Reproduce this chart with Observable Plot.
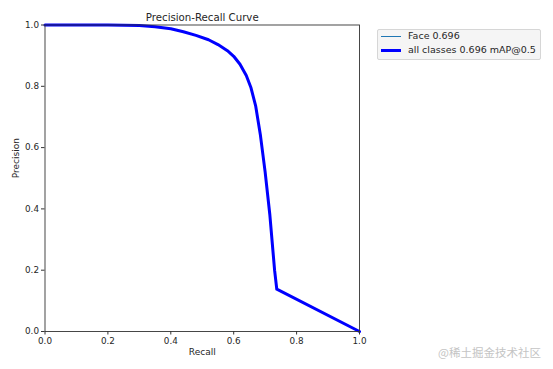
<!DOCTYPE html>
<html>
<head>
<meta charset="utf-8">
<script src="https://cdn.jsdelivr.net/npm/d3@7"></script>
<script src="https://cdn.jsdelivr.net/npm/@observablehq/plot@0.6"></script>
<style>
  html, body { margin: 0; padding: 0; background: #fff; }
  #wrap { position: relative; width: 553px; height: 369px; overflow: hidden; font-family: "DejaVu Sans", sans-serif; }
  #legend { position: absolute; left: 377px; top: 29px; width: 164px; height: 31px; box-sizing: border-box;
    background: #f5f5f5; border: 1px solid #d6d6d6; border-radius: 2px; font-size: 9.5px; color: #262626; }
  .row { position: absolute; left: 0; height: 12px; }
  .sw { position: absolute; left: 3px; width: 20px; }
  .lb { position: absolute; left: 30px; top: -6px; white-space: nowrap; line-height: 12px; }
  #wm { position: absolute; left: 438px; top: 344px; font-family: "Noto Sans CJK SC", sans-serif; font-size: 11.5px; color: #c4c4c4; white-space: nowrap; }
</style>
</head>
<body>
<div id="wrap">
  <div id="chart"></div>
  <div id="legend"></div>
  <div id="wm">@稀土掘金技术社区</div>
</div>
<script>
const title = "Precision-Recall Curve";
const xLabel = "Recall";
const yLabel = "Precision";
const ticks = [0, 0.2, 0.4, 0.6, 0.8, 1.0];
const recall = [0, 0.1, 0.2, 0.3, 0.35, 0.4, 0.44, 0.48, 0.52, 0.55, 0.58, 0.6, 0.62, 0.64, 0.655, 0.67, 0.685, 0.70, 0.715, 0.73, 0.737, 1.0];
const precision = [1.0, 1.0, 1.0, 0.998, 0.994, 0.988, 0.978, 0.966, 0.952, 0.936, 0.916, 0.898, 0.872, 0.835, 0.795, 0.735, 0.64, 0.52, 0.38, 0.2, 0.138, 0.0];
const seriesNames = ["Face 0.696", "all classes 0.696 mAP@0.5"];
const seriesColors = ["#1f77b4", "blue"];
const seriesWidths = [1, 3];

const data = recall.map((r, i) => ({recall: r, precision: precision[i]}));

const chart = Plot.plot({
  width: 553,
  height: 369,
  marginLeft: 44.5,
  marginRight: 194,
  marginTop: 24.5,
  marginBottom: 38,
  style: {fontFamily: "DejaVu Sans, sans-serif", fontSize: "8.8px", color: "#262626", background: "#fff"},
  x: {domain: [0, 1], ticks: ticks, tickFormat: d3.format(".1f"), label: null},
  y: {domain: [0, 1], ticks: ticks, tickFormat: d3.format(".1f"), label: null},
  marks: [
    Plot.line(data, {x: "recall", y: "precision", stroke: seriesColors[0], strokeWidth: seriesWidths[0]}),
    Plot.line(data, {x: "recall", y: "precision", stroke: seriesColors[1], strokeWidth: seriesWidths[1], strokeLinejoin: "round"}),
    Plot.frame({stroke: "#333", strokeWidth: 0.9}),
    Plot.axisX({ticks: ticks, tickFormat: d3.format(".1f"), tickSize: 3.5, tickPadding: 2.5, label: null, fontSize: 8.8, stroke: "#333"}),
    Plot.axisY({ticks: ticks, tickFormat: d3.format(".1f"), tickSize: 3.5, tickPadding: 2.5, label: null, fontSize: 8.8, stroke: "#333"}),
    Plot.text([title], {frameAnchor: "top", dy: -4, lineAnchor: "bottom", fontSize: 10.2, fill: "#262626"}),
    Plot.text([xLabel], {frameAnchor: "bottom", dy: 17.5, lineAnchor: "top", fontSize: 9, fill: "#262626"}),
    Plot.text([yLabel], {frameAnchor: "left", dx: -29, rotate: -90, fontSize: 9, fill: "#262626"})
  ]
});
document.getElementById("chart").appendChild(chart);

const legend = document.getElementById("legend");
seriesNames.forEach((name, i) => {
  const row = document.createElement("div");
  row.className = "row";
  row.style.top = (i === 0 ? 6 : 20) + "px";
  const sw = document.createElement("div");
  sw.className = "sw";
  sw.style.height = seriesWidths[i] + "px";
  sw.style.top = (-seriesWidths[i] / 2) + "px";
  sw.style.background = seriesColors[i];
  const lb = document.createElement("div");
  lb.className = "lb";
  lb.textContent = name;
  row.appendChild(sw);
  row.appendChild(lb);
  legend.appendChild(row);
});
</script>
</body>
</html>
